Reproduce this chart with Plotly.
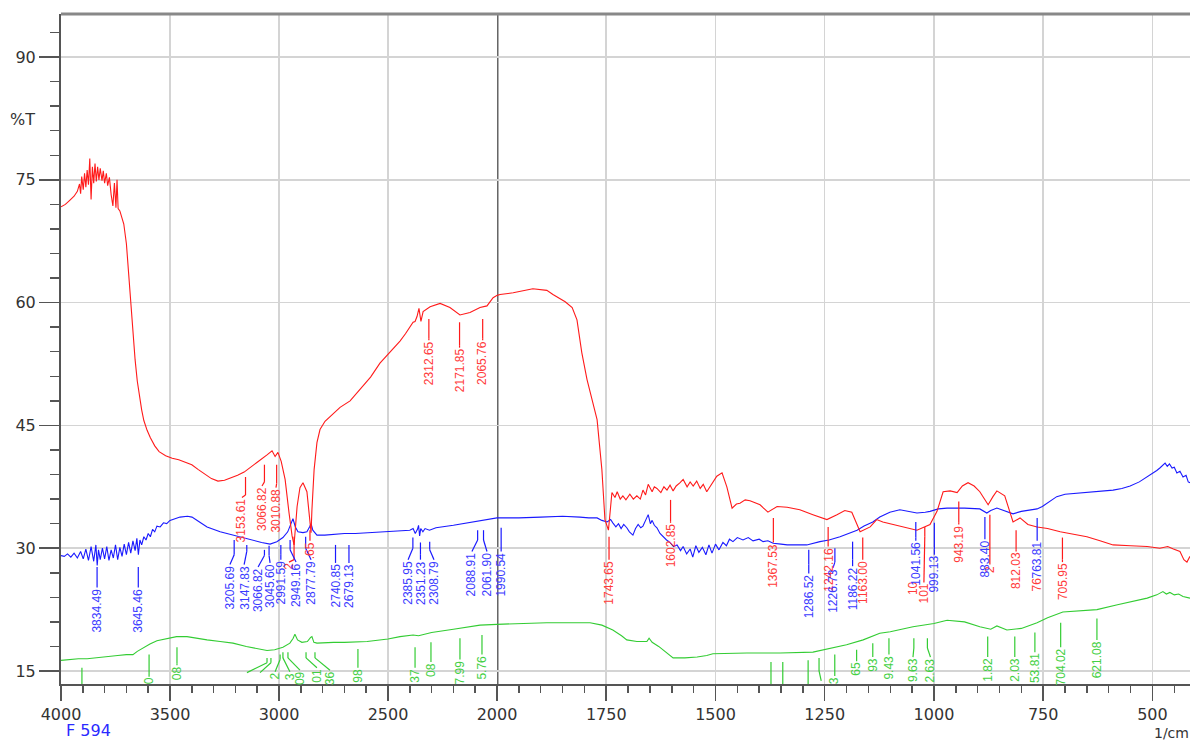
import plotly.graph_objects as go

# ---------------- spectrum data (wavenumber 1/cm, %T) ----------------
red_points = [
    (4000, 71.7), (3980, 72.0), (3960, 72.5), (3940, 73.0), (3925, 73.6), (3915, 74.5), (3910, 73.3),
    (3905, 75.4), (3898, 73.8), (3892, 75.8), (3886, 74.1), (3880, 76.2), (3874, 74.4), (3868, 77.6),
    (3862, 72.6), (3856, 76.6), (3850, 74.6), (3844, 77.0), (3838, 74.8), (3832, 76.6), (3826, 75.0),
    (3820, 76.4), (3812, 74.9), (3806, 76.1), (3800, 74.6), (3792, 75.8), (3786, 74.3), (3778, 75.3),
    (3770, 73.2), (3762, 71.8), (3755, 74.6), (3748, 71.6), (3743, 75.0), (3738, 71.5), (3730, 71.2),
    (3722, 70.4), (3712, 69.6), (3700, 67.2), (3690, 63.6), (3680, 59.6), (3670, 56.0), (3660, 53.0),
    (3650, 50.4), (3640, 48.4), (3630, 46.9), (3620, 45.6), (3605, 44.4), (3590, 43.5), (3570, 42.5),
    (3550, 41.8), (3520, 41.3), (3490, 41.0), (3460, 40.8), (3430, 40.5), (3400, 40.2), (3370, 39.6),
    (3340, 39.0), (3310, 38.5), (3280, 38.2), (3250, 38.3), (3220, 38.6), (3190, 38.9), (3160, 39.3),
    (3133, 39.8), (3100, 40.5), (3055, 41.4), (3032, 41.9), (3018, 41.2), (3005, 41.7), (2990, 40.6),
    (2972, 38.4), (2954, 34.3), (2940, 31.5), (2931, 30.4), (2924, 32.5), (2917, 35.1), (2904, 37.4),
    (2890, 38.0), (2872, 36.9), (2862, 33.8), (2853, 31.9), (2849, 34.7), (2839, 39.6), (2826, 42.9),
    (2812, 44.5), (2789, 45.5), (2743, 46.6), (2720, 47.2), (2674, 48.0), (2628, 49.4), (2580, 50.9),
    (2537, 52.6), (2490, 54.0), (2445, 55.3), (2420, 56.2), (2399, 57.0), (2385, 57.6), (2376, 57.7),
    (2367, 58.3), (2358, 59.3), (2349, 57.7), (2339, 58.9), (2307, 59.5), (2261, 59.9), (2216, 59.4),
    (2170, 58.5), (2124, 58.8), (2078, 59.4), (2046, 59.6), (2018, 60.6), (1993, 61.0), (1963, 61.2),
    (1918, 61.7), (1886, 61.5), (1872, 61.0), (1844, 60.1), (1828, 59.4), (1817, 57.9), (1806, 53.9),
    (1794, 50.6), (1771, 45.7), (1760, 39.6), (1753, 33.5), (1748, 32.6), (1745, 32.2), (1737, 36.8),
    (1730, 36.2), (1725, 36.9), (1718, 36.0), (1712, 36.4), (1705, 35.9), (1696, 36.6), (1688, 36.0),
    (1680, 36.4), (1672, 36.0), (1666, 37.1), (1660, 36.5), (1654, 37.8), (1645, 36.9), (1640, 37.5),
    (1634, 37.3), (1625, 36.8), (1618, 37.5), (1611, 37.1), (1604, 37.7), (1597, 37.0), (1590, 37.6),
    (1581, 38.0), (1574, 38.4), (1565, 37.5), (1558, 38.1), (1551, 37.6), (1543, 38.2), (1535, 37.3),
    (1528, 37.8), (1520, 36.9), (1514, 37.4), (1508, 38.0), (1497, 38.8), (1485, 39.2), (1474, 37.5),
    (1462, 34.9), (1452, 35.4), (1444, 35.5), (1432, 35.9), (1421, 35.8), (1410, 35.6), (1398, 35.3),
    (1380, 34.4), (1359, 35.1), (1336, 35.0), (1307, 34.7), (1277, 34.1), (1245, 33.5), (1222, 34.1),
    (1204, 34.6), (1188, 34.4), (1176, 32.9), (1169, 32.0), (1146, 32.6), (1131, 33.5), (1117, 33.2),
    (1078, 32.7), (1039, 32.2), (1009, 32.9), (993, 34.5), (979, 36.9), (963, 37.0), (947, 36.8),
    (935, 37.6), (922, 38.0), (908, 37.6), (895, 36.9), (876, 35.3), (865, 36.3), (856, 37.0),
    (838, 36.4), (819, 33.2), (803, 33.7), (785, 32.9), (764, 32.6), (740, 32.4), (711, 32.0),
    (680, 31.7), (650, 31.4), (620, 30.9), (590, 30.4), (550, 30.3), (512, 30.2), (483, 30.0),
    (465, 30.2), (452, 29.9), (437, 29.6), (428, 28.6), (421, 28.3), (414, 29.0),
]

blue_points = [
    (4000, 29.1), (3985, 29.0), (3970, 29.3), (3955, 28.9), (3940, 29.4), (3925, 28.8), (3910, 29.6),
    (3898, 28.7), (3886, 29.9), (3874, 28.5), (3862, 30.2), (3850, 28.4), (3840, 30.4), (3834, 27.9),
    (3828, 29.8), (3820, 28.6), (3810, 30.0), (3800, 28.7), (3790, 30.2), (3780, 28.5), (3770, 29.8),
    (3760, 28.8), (3750, 30.4), (3740, 28.6), (3730, 30.1), (3720, 29.0), (3710, 30.5), (3700, 29.2),
    (3690, 30.7), (3680, 29.4), (3670, 30.9), (3660, 29.7), (3652, 31.2), (3645, 29.2), (3638, 31.0),
    (3630, 30.4), (3620, 31.4), (3610, 31.0), (3600, 31.8), (3590, 31.4), (3580, 32.3), (3570, 32.0),
    (3560, 32.7), (3545, 32.6), (3530, 33.1), (3515, 33.0), (3500, 33.4), (3480, 33.6), (3454, 33.8),
    (3420, 33.9), (3399, 33.8), (3370, 33.3), (3330, 32.6), (3270, 32.0), (3211, 31.6), (3160, 31.2),
    (3119, 31.0), (3080, 30.7), (3041, 30.5), (3010, 30.8), (2982, 31.3), (2960, 32.0), (2945, 33.0),
    (2936, 33.6), (2925, 32.6), (2913, 32.0), (2890, 31.9), (2872, 32.0), (2860, 32.6), (2853, 33.0),
    (2845, 32.2), (2826, 31.6), (2790, 31.6), (2752, 31.7), (2700, 31.8), (2650, 31.8), (2596, 31.9),
    (2500, 32.0), (2445, 32.1), (2400, 32.2), (2385, 32.4), (2375, 31.8), (2365, 32.3), (2360, 32.8),
    (2355, 31.5), (2350, 32.4), (2340, 32.0), (2330, 32.4), (2310, 32.2), (2280, 32.5), (2200, 32.8),
    (2138, 33.1), (2080, 33.4), (2050, 33.5), (2000, 33.7), (1993, 33.7), (1950, 33.7), (1900, 33.8),
    (1850, 33.9), (1810, 33.8), (1790, 33.7), (1771, 33.7), (1760, 33.4), (1748, 33.2), (1740, 33.5),
    (1735, 33.1), (1728, 32.6), (1722, 33.0), (1716, 32.4), (1710, 32.9), (1703, 32.5), (1697, 32.0),
    (1689, 31.6), (1683, 32.4), (1677, 32.9), (1671, 32.5), (1666, 32.7), (1660, 33.4), (1654, 34.1),
    (1649, 33.0), (1645, 33.4), (1640, 32.8), (1634, 32.5), (1627, 31.8), (1620, 31.4), (1612, 31.0),
    (1604, 30.7), (1596, 30.2), (1588, 30.4), (1580, 29.7), (1574, 30.2), (1566, 29.3), (1558, 29.9),
    (1552, 28.9), (1545, 30.3), (1538, 29.5), (1530, 30.1), (1522, 29.2), (1515, 30.4), (1508, 29.4),
    (1500, 30.5), (1492, 29.8), (1483, 30.7), (1475, 30.3), (1468, 31.1), (1460, 30.8), (1450, 31.3),
    (1437, 31.0), (1425, 31.3), (1414, 30.9), (1400, 31.1), (1391, 30.8), (1380, 30.9), (1368, 30.6),
    (1350, 30.5), (1336, 30.4), (1310, 30.4), (1291, 30.4), (1261, 30.8), (1240, 31.0), (1215, 31.4),
    (1195, 31.8), (1176, 32.2), (1160, 32.7), (1140, 33.2), (1124, 33.8), (1101, 34.4), (1078, 34.7),
    (1060, 34.5), (1039, 34.3), (1020, 34.4), (1009, 34.5), (990, 34.8), (970, 34.9), (930, 34.9),
    (895, 34.8), (879, 34.3), (870, 34.6), (856, 34.9), (840, 34.6), (819, 34.2), (800, 34.5),
    (780, 34.7), (764, 34.8), (752, 35.1), (741, 35.5), (730, 36.0), (719, 36.3), (700, 36.6),
    (680, 36.7), (666, 36.8), (640, 36.9), (610, 37.0), (590, 37.1), (570, 37.3), (551, 37.6),
    (530, 38.1), (512, 38.7), (500, 39.1), (490, 39.5), (483, 39.8), (476, 40.1), (471, 40.4),
    (466, 40.0), (461, 40.3), (455, 39.8), (450, 39.9), (444, 39.2), (437, 39.4), (430, 38.7),
    (423, 38.9), (418, 38.1), (414, 38.0),
]

green_points = [
    (4000, 16.3), (3960, 16.4), (3920, 16.5), (3880, 16.5), (3850, 16.6), (3820, 16.7), (3780, 16.8),
    (3740, 16.9), (3700, 17.0), (3670, 17.0), (3650, 17.4), (3620, 17.9), (3592, 18.3), (3560, 18.7),
    (3514, 19.0), (3470, 19.2), (3422, 19.2), (3380, 19.0), (3330, 18.8), (3270, 18.6), (3211, 18.4),
    (3150, 18.0), (3100, 17.7), (3055, 17.5), (3020, 17.6), (2982, 17.9), (2950, 18.4), (2935, 19.0),
    (2927, 19.5), (2915, 18.8), (2895, 18.5), (2870, 18.6), (2855, 19.1), (2849, 19.2), (2840, 18.5),
    (2826, 18.4), (2750, 18.5), (2700, 18.5), (2596, 18.6), (2500, 18.9), (2445, 19.2), (2385, 19.4),
    (2360, 19.3), (2300, 19.7), (2200, 20.1), (2078, 20.6), (2000, 20.7), (1950, 20.8), (1886, 20.9),
    (1820, 20.9), (1787, 20.9), (1760, 20.6), (1735, 20.0), (1715, 19.3), (1703, 18.8), (1680, 18.6),
    (1657, 18.6), (1652, 19.0), (1645, 18.5), (1630, 18.0), (1610, 17.2), (1597, 16.6), (1570, 16.6),
    (1542, 16.7), (1520, 16.9), (1506, 17.1), (1428, 17.2), (1352, 17.2), (1277, 17.3), (1231, 17.8),
    (1200, 18.2), (1162, 18.8), (1124, 19.6), (1100, 19.8), (1048, 20.4), (1000, 20.8), (970, 21.2),
    (930, 21.0), (895, 20.4), (870, 20.1), (856, 20.5), (833, 20.0), (800, 20.2), (764, 20.9),
    (740, 21.5), (705, 22.2), (670, 22.3), (627, 22.5), (580, 23.1), (540, 23.6), (512, 23.9),
    (490, 24.3), (476, 24.7), (468, 24.4), (460, 24.6), (450, 24.3), (440, 24.4), (430, 24.1),
    (420, 24.0), (414, 23.9),
]

# ---------------- peak labels ----------------
# text, then geometry: (x of line top, y line top, y elbow, x of text, y text top)
red_label_text = ["3153.61", "3066.82", "3010.88", "2", ".65", "2312.65", "2171.85", "2065.76",
                  "1743.65", "1602.85", "1367.53", "1242.16", "1163.00", "10", "101", "943.19",
                  "2", "812.03", "76", "705.95"]
red_label_geom = [
    (3153.61, 38.7, 36.5, 3170, 36.2), (3066.82, 40.2, 38.1, 3078, 37.6), (3010.88, 40.2, 37.9, 3014, 37.4),
    (2931, 31.4, 28.6, 2954, 28.3), (2858, 32.2, 31.0, 2858, 30.9), (2312.65, 58.0, 55.6, 2312.65, 55.4),
    (2171.85, 57.6, 54.8, 2171.85, 54.5), (2065.76, 58.0, 55.6, 2065.76, 55.4),
    (1743.65, 31.4, 28.8, 1743.65, 28.6), (1602.85, 35.9, 33.3, 1602.85, 33.1),
    (1367.53, 33.7, 30.9, 1367.53, 30.7), (1242.16, 32.6, 30.4, 1242.16, 30.2),
    (1163.00, 31.3, 28.8, 1163.00, 28.6), (None, None, None, 1048, 26.1), (1021, 32.6, 31.4, 1023, 25.8),
    (943.19, 35.7, 33.1, 943.19, 32.9), (872, 34.1, 31.0, 872, 28.0), (812.03, 32.2, 29.8, 812.03, 29.6),
    (None, None, None, 765, 26.5), (705.95, 31.3, 28.6, 705.95, 28.3),
]

blue_label_text = ["3834.49", "3645.46", "3205.69", "3147.83", "3066.82", "3045.60", "2991.59", "2949.16",
                   "2877.79", "2740.85", "2679.13", "2385.95", "2351.23", "2308.79", "2088.91", "2061.90",
                   "1990.54", "1286.52", "1226.73", "1186.22", "1041.56", "999.13", "883.40", "763.81"]
blue_label_geom = [
    (3834.49, 27.7, 25.5, 3834.49, 25.2), (3645.46, 27.7, 25.5, 3645.46, 25.2),
    (3205.69, 31.0, 29.2, 3225, 28.0), (3147.83, 30.4, 29.6, 3160, 28.0),
    (3066.82, 29.8, 29.1, 3096, 27.7), (3045.60, 30.3, 29.1, 3041, 28.2),
    (2991.59, 30.4, 29.2, 2991.59, 28.6), (2949.16, 31.0, 29.8, 2922, 28.3),
    (2877.79, 31.4, 30.0, 2853, 28.6), (2740.85, 30.4, 28.8, 2740.85, 28.2),
    (2679.13, 30.4, 28.8, 2679.13, 28.2), (2385.95, 31.3, 30.0, 2408, 28.6),
    (2351.23, 30.7, 29.2, 2351.23, 28.6), (2308.79, 30.8, 29.8, 2289, 28.6),
    (2088.91, 32.2, 31.0, 2115, 29.6), (2061.90, 32.2, 31.0, 2046, 29.6),
    (1990.54, 32.5, 30.4, 1990.54, 29.6), (1286.52, 29.8, 28.0, 1286.52, 26.9),
    (1226.73, 30.0, 28.3, 1231, 27.6), (1186.22, 30.8, 28.6, 1186.22, 27.8),
    (1041.56, 33.2, 31.3, 1041.56, 30.9), (999.13, 33.1, 29.8, 999.13, 29.2),
    (883.40, 33.8, 31.6, 883.40, 31.1), (763.81, 33.7, 31.5, 763.81, 30.9),
]

green_label_text = ["", "0", "08", "", "", "2", "3", "09", "01", "36", "98", "37", "08", "7.99", "5.76",
                    "", "", "", "", "3", "65", "93", "9.43", "9.63", "2.63", "1.82", "2.03", "53.81",
                    "704.02", "621.08"]
green_label_geom = [
    (3904, 15.4, 13.4, 3904, 13.4), (3596, 17.0, 14.4, 3596, 14.3), (3468, 17.9, 15.9, 3468, 15.7),
    (3055, 16.6, 16.0, 3147, 14.8), (3037, 16.6, 16.0, 3087, 14.8), (2995, 17.0, 16.4, 3018, 14.9),
    (2982, 17.3, 16.6, 2950, 14.9), (2959, 17.3, 16.6, 2904, 15.1), (2876, 17.3, 16.6, 2826, 15.4),
    (2835, 17.3, 16.6, 2766, 15.1), (2638, 17.7, 15.4, 2638, 15.4), (2376, 17.9, 15.4, 2376, 15.4),
    (2303, 18.5, 16.1, 2303, 16.1), (2170, 19.0, 16.4, 2170, 16.4), (2069, 19.4, 17.0, 2069, 17.0),
    (1373, 16.1, 13.4, 1373, 13.4), (1346, 16.1, 13.4, 1346, 13.4), (1288, 16.3, 13.4, 1288, 13.4),
    (1263, 16.6, 15.0, 1258, 13.8), (1227, 17.0, 14.4, 1227, 14.4), (1177, 17.6, 16.2, 1177, 16.2),
    (1140, 18.4, 16.7, 1140, 16.7), (1103, 19.0, 17.0, 1103, 17.0), (1046, 19.0, 17.8, 1048, 16.7),
    (1015, 19.0, 17.8, 1008, 16.7), (877, 19.2, 16.7, 877, 16.7), (815, 19.2, 16.7, 815, 16.7),
    (769, 19.7, 17.3, 769, 17.3), (710, 20.9, 17.9, 710, 17.9), (627, 21.4, 18.8, 627, 18.8),
]

x_ticks_left = [4000, 3500, 3000, 2500]
x_ticks_right = [2000, 1750, 1500, 1250, 1000, 750, 500]
y_ticks = [15, 30, 45, 60, 75, 90]

# ---------------- figure ----------------
SPLIT = 0.3862          # 2000 1/cm sits here: the chart uses a doubled scale below 2000
RED, BLUE, GREEN = "#ff1a1a", "#1a1aff", "#33cc33"
RED_T, BLUE_T, GREEN_T = "#ff3b3b", "#3b3bff", "#44d044"
AX = "#555555"

fig = go.Figure()
for pts, col in ((green_points, GREEN), (blue_points, BLUE), (red_points, RED)):
    wn = [p[0] for p in pts]
    t = [p[1] for p in pts]
    for xa in ("x", "x2"):
        fig.add_trace(go.Scatter(x=wn, y=t, xaxis=xa, yaxis="y", mode="lines",
                                 line=dict(color=col, width=1.1), hoverinfo="skip"))


def xref_of(w):
    return "x" if w > 2000 else "x2"


shapes = []
annotations = []


def add_labels(texts, geoms, tcol, lcol):
    for txt, (xl, y1, ym, xt, yb) in zip(texts, geoms):
        if xl is not None:
            r = xref_of(xl)
            shapes.append(dict(type="line", xref=r, yref="y", x0=xl, x1=xl, y0=y1, y1=ym,
                               line=dict(color=lcol, width=1.2)))
            shapes.append(dict(type="line", xref=r, yref="y", x0=xl, x1=xt, y0=ym, y1=yb,
                               line=dict(color=lcol, width=1.2)))
        if txt:
            annotations.append(dict(x=xt, y=yb, xref=xref_of(xt), yref="y", text=txt,
                                    textangle=-90, showarrow=False, xanchor="center",
                                    yanchor="top", borderpad=0,
                                    font=dict(family="Liberation Sans, Arial", size=12, color=tcol)))


add_labels(red_label_text, red_label_geom, RED_T, RED)
add_labels(blue_label_text, blue_label_geom, BLUE_T, BLUE)
add_labels(green_label_text, green_label_geom, GREEN_T, GREEN)

# frame pieces
shapes.append(dict(type="line", xref="x2", yref="paper", x0=2000, x1=2000, y0=0, y1=1,
                   line=dict(color="#666666", width=3), layer="between"))
shapes.append(dict(type="line", xref="paper", yref="paper", x0=0, x1=1, y0=1, y1=1,
                   line=dict(color="#888888", width=3)))

annotations += [
    dict(x=-0.0345, y=0.842, xref="paper", yref="paper", text="%T", showarrow=False,
         xanchor="center", yanchor="middle",
         font=dict(family="DejaVu Sans", size=16, color="#333333")),
    dict(x=0.003, y=-0.070, xref="paper", yref="paper", text="F 594", showarrow=False,
         xanchor="left", yanchor="middle",
         font=dict(family="DejaVu Sans", size=16, color="#2a2aff")),
    dict(x=1.0, y=-0.073, xref="paper", yref="paper", text="1/cm", showarrow=False,
         xanchor="right", yanchor="middle", borderpad=0,
         font=dict(family="DejaVu Sans", size=14, color="#333333")),
]

tickfont = dict(family="DejaVu Sans", size=16, color="#333333")
common_x = dict(ticks="outside", ticklen=15, tickwidth=1.5, tickcolor=AX, showline=True,
                linecolor=AX, linewidth=2, showgrid=True, gridcolor="#d4d4d4", gridwidth=1.5,
                zeroline=False, tickfont=tickfont, anchor="y", automargin=False)

fig.update_layout(
    width=1190, height=740,
    margin=dict(l=61, r=0, t=14, b=56, autoexpand=False),
    paper_bgcolor="white", plot_bgcolor="white",
    showlegend=False,
    xaxis=dict(domain=[0, SPLIT], range=[4000, 2000], tickvals=x_ticks_left,
               minor=dict(tick0=0, dtick=100, ticks="outside", ticklen=7, tickcolor=AX, showgrid=False),
               **common_x),
    xaxis2=dict(domain=[SPLIT, 1], range=[2000, 414], tickvals=x_ticks_right,
                minor=dict(tick0=0, dtick=50, ticks="outside", ticklen=7, tickcolor=AX, showgrid=False),
                **common_x),
    yaxis=dict(range=[13.41, 95.26], tickvals=y_ticks, ticks="outside", ticklen=20, tickwidth=1.5,
               tickcolor=AX, showline=True, linecolor=AX, linewidth=2, showgrid=True,
               gridcolor="#d4d4d4", gridwidth=1.5, zeroline=False, tickfont=tickfont,
               minor=dict(tick0=0, dtick=3, ticks="outside", ticklen=9, tickcolor=AX, showgrid=False),
               anchor="x", automargin=False),
    shapes=shapes,
    annotations=annotations,
)

fig.write_html(
    "out.html",
    config={"displayModeBar": False, "staticPlot": True},
    post_script="document.documentElement.style.overflow='hidden';"
                "document.body.style.margin='0px';document.body.style.overflow='hidden';",
)
